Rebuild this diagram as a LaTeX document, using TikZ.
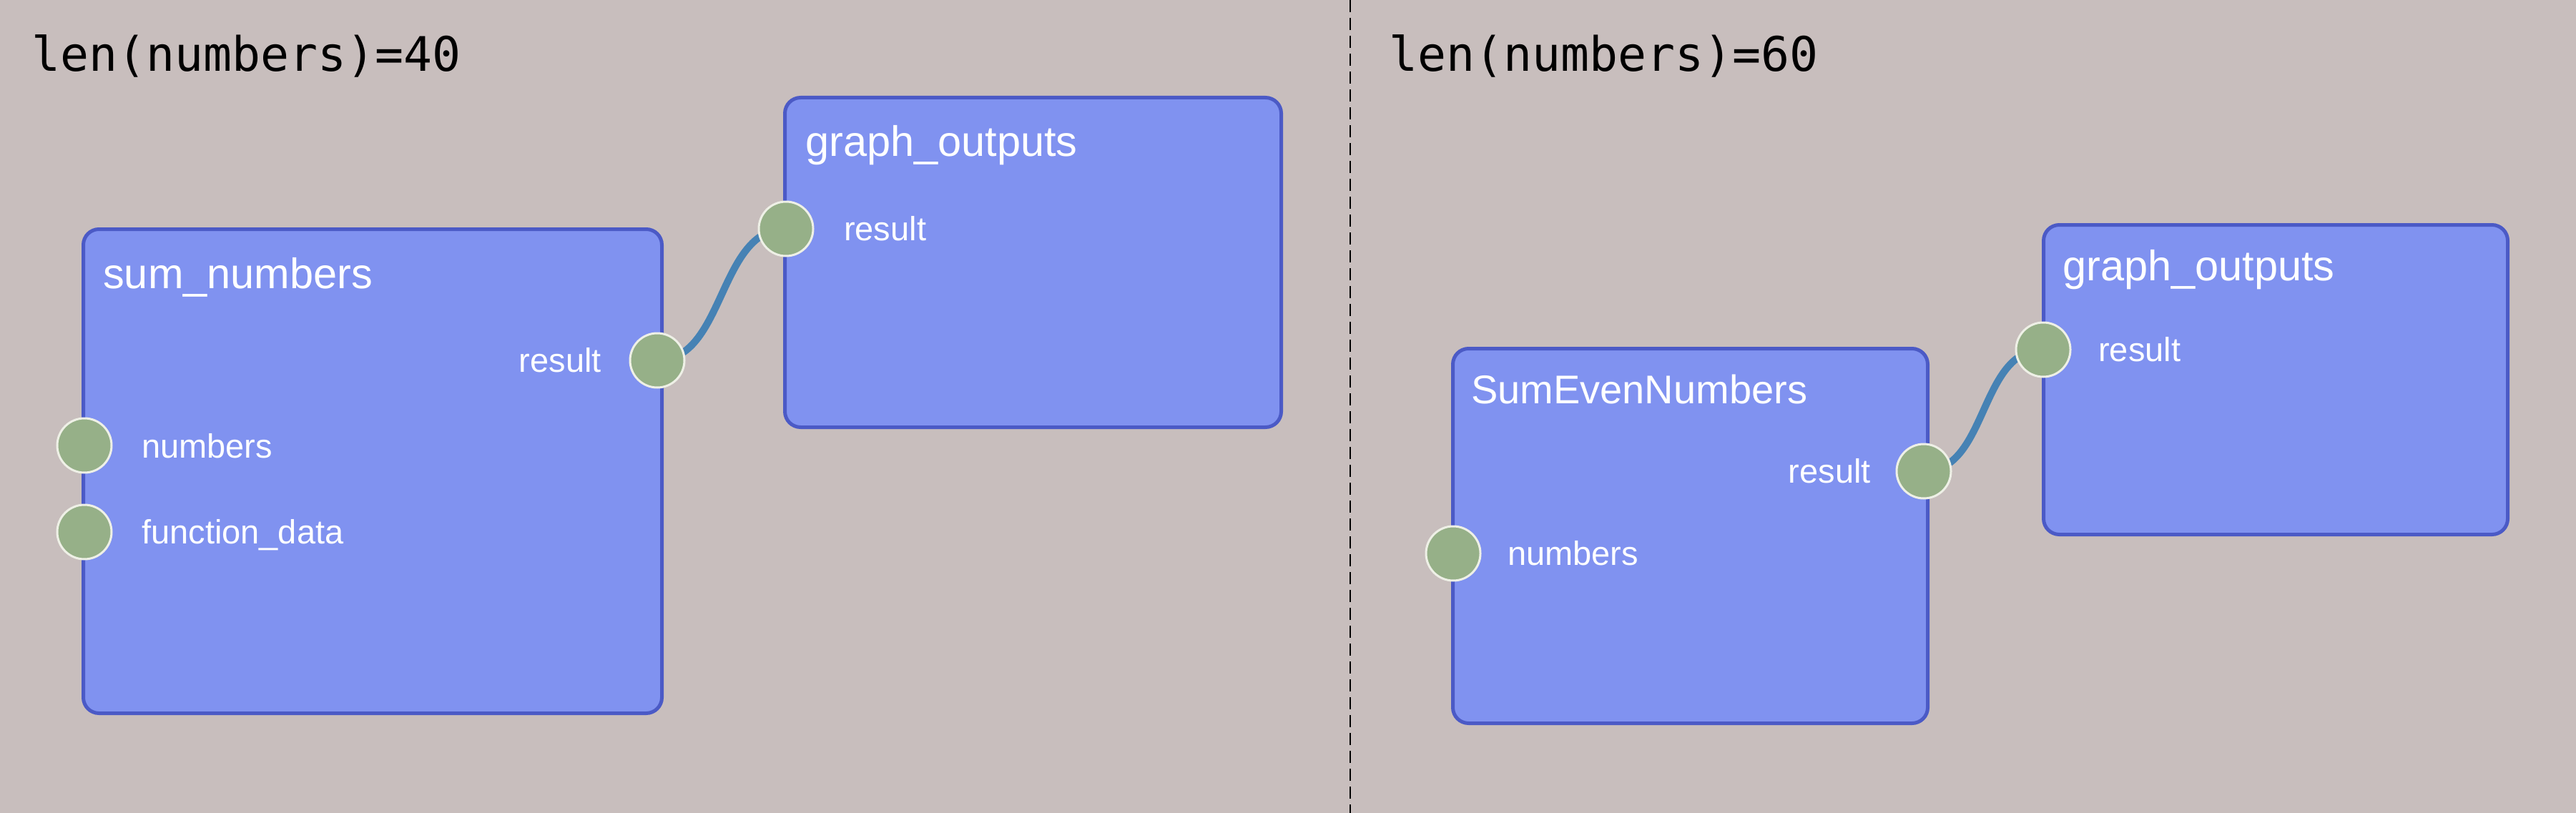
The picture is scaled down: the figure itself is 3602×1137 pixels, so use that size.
\documentclass[tikz,border=0pt]{standalone}
\usepackage{fontspec}
\setmainfont{Liberation Sans}
\newfontfamily\hdrfont[RawFeature=+zero]{DejaVu Sans Mono}
\definecolor{bgc}{HTML}{C8BEBD}
\definecolor{boxfill}{HTML}{8092F0}
\definecolor{boxline}{HTML}{4B5AC6}
\definecolor{portfill}{HTML}{96B088}
\definecolor{portline}{HTML}{EEF0E6}
\definecolor{linkc}{HTML}{4682B4}
\tikzset{
  opbox/.style={draw=boxline, fill=boxfill, line width=5pt, rounded corners=22pt, inner sep=0pt, anchor=north west},
  port/.style={circle, draw=portline, fill=portfill, line width=3pt, minimum size=76pt, inner sep=0pt},
  link/.style={draw=linkc, line width=10pt},
  ttl/.style={text=white, font=\fontsize{59.5}{62}\selectfont, inner sep=0pt, anchor=base west},
  plabl/.style={text=white, font=\fontsize{47}{50}\selectfont, inner sep=0pt, anchor=base west},
  plabr/.style={text=white, font=\fontsize{47}{50}\selectfont, inner sep=0pt, anchor=base east},
  hdr/.style={text=black, font=\hdrfont\fontsize{66.5}{70}\selectfont, inner sep=0pt, anchor=base west},
  divider/.style={draw=black, line width=2.5pt, dash pattern=on 17pt off 8pt}
}
\begin{document}
\begin{tikzpicture}[x=1pt, y=-1pt]
\fill[bgc] (0,0) rectangle (3602,1137);
\useasboundingbox (0,0) rectangle (3602,1137);
% divider
\coordinate (dtop) at (1888,0);
\coordinate (dbot) at (1888,1137);
\draw[divider] (dtop) -- (dbot);
% headers
\node[hdr] (h1) at (44,100) {len(numbers)=40};
\node[hdr] (h2) at (1942,100) {len(numbers)=60};
% boxes
\node[opbox, minimum width=809pt, minimum height=677pt] (A) at (114,318) {};
\node[opbox, minimum width=694pt, minimum height=461pt] (B) at (1095,134) {};
\node[opbox, minimum width=664pt, minimum height=524pt] (C) at (2029,485) {};
\node[opbox, minimum width=649pt, minimum height=433pt] (D) at (2855,312) {};
% titles
\node[ttl] (At) at (144,403) {sum\_numbers};
\node[ttl] (Bt) at (1126,218) {graph\_outputs};
\node[ttl, font=\fontsize{56}{60}\selectfont] (Ct) at (2057,564) {SumEvenNumbers};
\node[ttl] (Dt) at (2884,392) {graph\_outputs};
% port coordinates
\coordinate (Ain1) at (118,623);
\coordinate (Ain2) at (118,744);
\coordinate (Aout) at (919,504);
\coordinate (Bin) at (1099,320);
\coordinate (Cout) at (2690,659);
\coordinate (Cin) at (2032,774);
\coordinate (Din) at (2857,489);
% links
\draw[link] (Aout) .. controls +(95,0) and +(-95,0) .. (Bin);
\draw[link] (Cout) .. controls +(90,0) and +(-90,0) .. (Din);
% ports
\node[port] (pA1) at (Ain1) {};
\node[port] (pA2) at (Ain2) {};
\node[port] (pA3) at (Aout) {};
\node[port] (pB1) at (Bin) {};
\node[port] (pC1) at (Cout) {};
\node[port] (pC2) at (Cin) {};
\node[port] (pD1) at (Din) {};
% port labels
\node[plabl] (lA1) at (198,640) {numbers};
\node[plabl] (lA2) at (198,760) {function\_data};
\node[plabr] (lA3) at (841,520) {result};
\node[plabl] (lB1) at (1180,336) {result};
\node[plabr] (lC1) at (2616,675) {result};
\node[plabl] (lC2) at (2108,790) {numbers};
\node[plabl] (lD1) at (2934,505) {result};
\end{tikzpicture}
\end{document}
